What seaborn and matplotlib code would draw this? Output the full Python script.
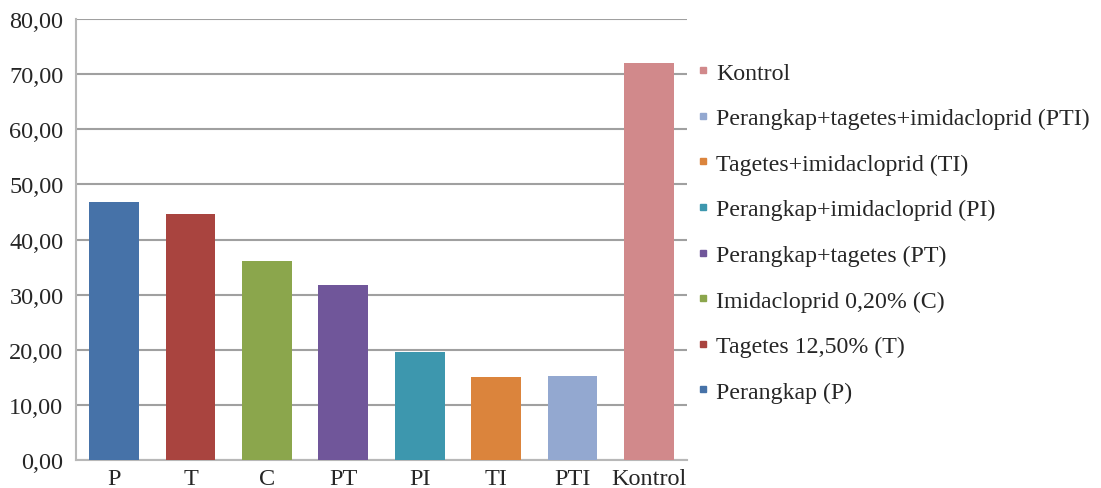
import matplotlib
matplotlib.use("Agg")
import matplotlib.pyplot as plt
from matplotlib.lines import Line2D
import seaborn as sns

categories = ["P", "T", "C", "PT", "PI", "TI", "PTI", "Kontrol"]
values = [46.9, 44.7, 36.2, 31.8, 19.6, 15.1, 15.3, 72.0]
legend_labels = [
    "Perangkap (P)",
    "Tagetes 12,50% (T)",
    "Imidacloprid 0,20% (C)",
    "Perangkap+tagetes (PT)",
    "Perangkap+imidacloprid (PI)",
    "Tagetes+imidacloprid (TI)",
    "Perangkap+tagetes+imidacloprid (PTI)",
    "Kontrol",
]
colors = ["#4672A8", "#A9443F", "#8BA64C", "#70569A",
          "#3D97AE", "#DB843C", "#93A8D0", "#D1898B"]

sns.set_style("white")
plt.rcParams["font.family"] = ["Liberation Serif", "DejaVu Serif"]

fig = plt.figure(figsize=(11.01, 4.89), dpi=100)
ax = fig.add_axes([0.069, 0.057, 0.555, 0.902])

sns.barplot(x=categories, y=values, hue=categories, palette=colors,
            width=0.65, legend=False, saturation=1, linewidth=0,
            ax=ax, zorder=3)

ax.set_ylim(0, 80)
ax.set_xlim(-0.5, 7.5)
ax.set_yticks(range(0, 81, 10))
ax.set_yticklabels([f"{v},00" for v in range(0, 81, 10)], fontsize=17.5)
ax.tick_params(axis="x", labelsize=17.5, length=0, pad=6)
ax.tick_params(axis="y", length=5, color="#A0A0A0", width=1.5, pad=4)
ax.yaxis.grid(True, color="#A0A0A0", linewidth=1.5, zorder=0)
ax.set_axisbelow(True)
for side in ["top", "right"]:
    ax.spines[side].set_visible(False)
for side in ["left", "bottom"]:
    ax.spines[side].set_color("#B8B8B8")
    ax.spines[side].set_linewidth(1.5)
ax.set_xlabel("")
ax.set_ylabel("")

handles = [Line2D([], [], marker="s", linestyle="", color=c, markersize=5)
           for c in colors]
fig.legend(handles[::-1], legend_labels[::-1], loc="upper left",
           bbox_to_anchor=(0.623, 0.891), frameon=False, fontsize=17.2,
           handlelength=0.6, handletextpad=0.25, labelspacing=1.0,
           borderaxespad=0)

fig.savefig("out.png", dpi=100)
